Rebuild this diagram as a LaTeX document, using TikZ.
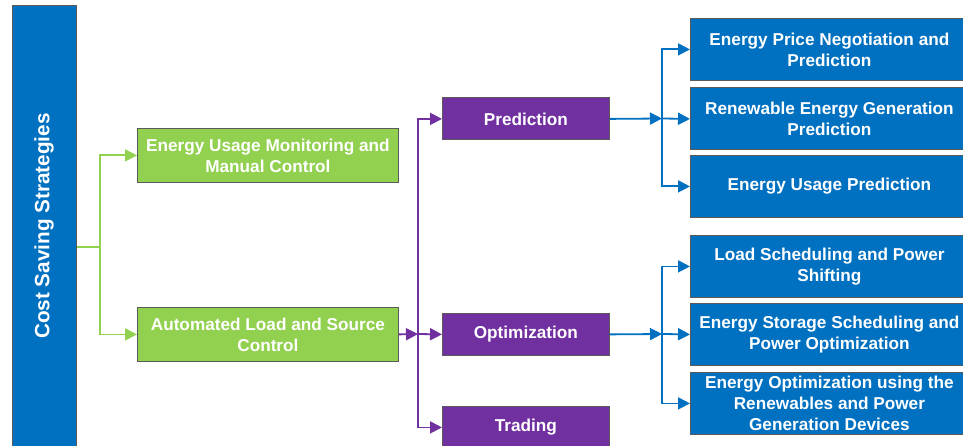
\documentclass[tikz,border=0pt]{standalone}
\usepackage{fontspec}
\setmainfont{Liberation Sans}
\usetikzlibrary{arrows.meta}
\definecolor{cblue}{HTML}{0070C0}
\definecolor{cgreen}{HTML}{92D050}
\definecolor{cpurple}{HTML}{7030A0}
\definecolor{cborder}{HTML}{5A5A5A}
\begin{document}
\begin{tikzpicture}[x=1pt,y=-1pt,
  box/.style={draw=cborder, line width=0.8pt, inner sep=0pt, anchor=north west, text=white,
    font=\fontsize{17.2}{21}\selectfont\bfseries, align=center},
  bluebox/.style={box, fill=cblue, minimum width=278pt, minimum height=62pt},
  greenbox/.style={box, fill=cgreen, minimum width=261pt, minimum height=54pt},
  purplebox/.style={box, fill=cpurple, minimum width=167pt, minimum height=42pt},
  tip/.style={-{Triangle[length=12pt,width=12pt]}},
  gline/.style={draw=cgreen, line width=1.8pt},
  pline/.style={draw=cpurple, line width=1.8pt},
  bline/.style={draw=cblue, line width=1.8pt}]
\useasboundingbox (0,0) rectangle (963,446);

% left bar
\node[box, fill=cblue, minimum width=64pt, minimum height=445pt] (bar) at (12,5) {};
\node[rotate=90, text=white, font=\fontsize{20.7}{24}\selectfont\bfseries] (bartext) at (44,226) {Cost Saving Strategies};

% green boxes
\node[greenbox] (g1) at (137,128) {Energy Usage Monitoring and\\Manual Control};
\node[greenbox] (g2) at (137,307) {Automated Load and Source\\Control};

% purple boxes
\node[purplebox] (p1) at (442,97.5) {Prediction};
\node[purplebox] (p2) at (442,313) {Optimization};
\node[purplebox] (p3) at (442,406) {Trading};

% blue boxes
\node[bluebox] (b1) at (690,18) {Energy Price Negotiation and\\Prediction};
\node[bluebox] (b2) at (690,87.5) {Renewable Energy Generation\\Prediction};
\node[bluebox] (b3) at (690,155) {Energy Usage Prediction};
\node[bluebox] (b4) at (690,235) {Load Scheduling and Power\\Shifting};
\node[bluebox] (b5) at (690,303) {Energy Storage Scheduling and\\Power Optimization};
\node[bluebox] (b6) at (690,372) {Energy Optimization using the\\Renewables and Power\\Generation Devices};

% green connectors
\coordinate (gsplit) at (100,247);
\draw[gline] (bar.east |- gsplit) -- (gsplit);
\draw[gline, tip] (gsplit) |- (g1.west);
\draw[gline, tip] (gsplit) |- (g2.west);

% purple connectors
\coordinate (psplit) at (418,334);
\draw[pline, tip] (g2.east) -- (psplit);
\draw[pline, tip] (psplit) |- (p1.west);
\draw[pline, tip] (psplit) -- (p2.west);
\draw[pline, tip] (psplit) |- (p3.west);

% blue connectors from Prediction
\coordinate (b1split) at (662,118.5);
\draw[bline, tip] (p1.east) -- (b1split);
\draw[bline, tip] (b1split) |- (b1.west);
\draw[bline, tip] (b1split) -- (b2.west);
\draw[bline, tip] (b1split) |- (b3.west);

% blue connectors from Optimization
\coordinate (b2split) at (662,334);
\draw[bline, tip] (p2.east) -- (b2split);
\draw[bline, tip] (b2split) |- (b4.west);
\draw[bline, tip] (b2split) -- (b5.west);
\draw[bline, tip] (b2split) |- (b6.west);
\end{tikzpicture}
\end{document}
